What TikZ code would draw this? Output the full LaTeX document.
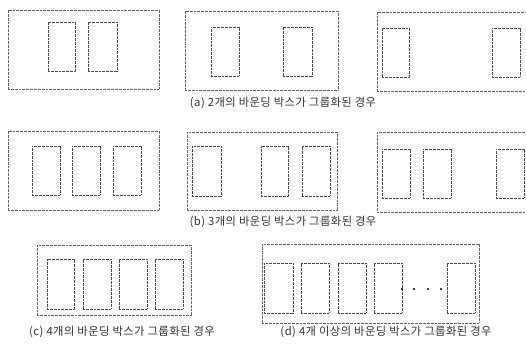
\documentclass[tikz,border=0pt]{standalone}
\usepackage{fontspec}
\newfontfamily\krfont[LetterSpace=4]{Noto Sans CJK KR}
\usetikzlibrary{fit}
\tikzset{
  frame/.style={draw=black!60, line width=0.65pt, dash pattern=on 0.9pt off 0.45pt, inner sep=0pt},
  bbox/.style={draw=black!70, line width=0.65pt, dash pattern=on 0.9pt off 0.45pt, inner sep=0pt},
  captext/.style={font=\krfont\fontsize{11.3}{13}\selectfont, text=black!80, inner sep=0pt},
  dotmark/.style={circle, fill=black, inner sep=0pt, minimum size=2.2pt}
}
\newcommand\fr[6]{\path (#3,#4) coordinate (#2a) (#5,#6) coordinate (#2b);
  \node[#1, fit=(#2a)(#2b)] (#2) {};}
\begin{document}
\begin{tikzpicture}[x=1pt,y=-1pt]
\useasboundingbox (0,0) rectangle (526,343);
\clip (0,0) rectangle (526,343);
% row a
\fr{frame}{a1}{8}{10}{159}{89}
\fr{bbox}{a1x}{48}{22}{75}{71}
\fr{bbox}{a1y}{88}{22}{117}{71}
\fr{frame}{a2}{185}{11}{338}{90}
\fr{bbox}{a2x}{211}{27}{239}{76}
\fr{bbox}{a2y}{283}{27}{312}{76}
\fr{frame}{a3}{377}{12}{532}{91}
\fr{bbox}{a3x}{382}{28}{409}{77}
\fr{bbox}{a3y}{492}{28}{520}{77}
\node[captext] (capa) at (283,103) {(a) 2개의 바운딩 박스가 그룹화된 경우};
% row b
\fr{frame}{b1}{8}{131}{159}{210}
\fr{bbox}{b1x}{32}{146}{60}{195}
\fr{bbox}{b1y}{72}{146}{100}{195}
\fr{bbox}{b1z}{113}{146}{141}{195}
\fr{frame}{b2}{187}{132}{337}{210}
\fr{bbox}{b2x}{192}{146}{221}{196}
\fr{bbox}{b2y}{261}{146}{288}{196}
\fr{bbox}{b2z}{302}{146}{330}{196}
\fr{frame}{b3}{377}{132}{532}{212}
\fr{bbox}{b3x}{382}{149}{410}{198}
\fr{bbox}{b3y}{423}{149}{451}{198}
\fr{bbox}{b3z}{496}{149}{524}{198}
\node[captext] (capb) at (283,222) {(b) 3개의 바운딩 박스가 그룹화된 경우};
% row c
\fr{frame}{c1}{37}{245}{191}{315}
\fr{bbox}{c1w}{47}{259}{74}{309}
\fr{bbox}{c1x}{83}{259}{111}{309}
\fr{bbox}{c1y}{119}{259}{147}{309}
\fr{bbox}{c1z}{155}{259}{183}{309}
\node[captext] (capc) at (122,332) {(c) 4개의 바운딩 박스가 그룹화된 경우};
% row d
\fr{frame}{d1}{262}{244}{479}{323}
\fr{bbox}{d1v}{264}{263}{293}{313}
\fr{bbox}{d1w}{301}{263}{329}{313}
\fr{bbox}{d1x}{338}{263}{366}{313}
\fr{bbox}{d1y}{374}{263}{402}{313}
\fr{bbox}{d1z}{447}{263}{475}{313}
\node[dotmark] (p0) at (402,289) {};
\node[dotmark] (p1) at (414,289) {};
\node[dotmark] (p2) at (428,289) {};
\node[dotmark] (p3) at (441,289) {};
\node[captext] (capd) at (386,332) {(d) 4개 이상의 바운딩 박스가 그룹화된 경우};
\end{tikzpicture}
\end{document}
